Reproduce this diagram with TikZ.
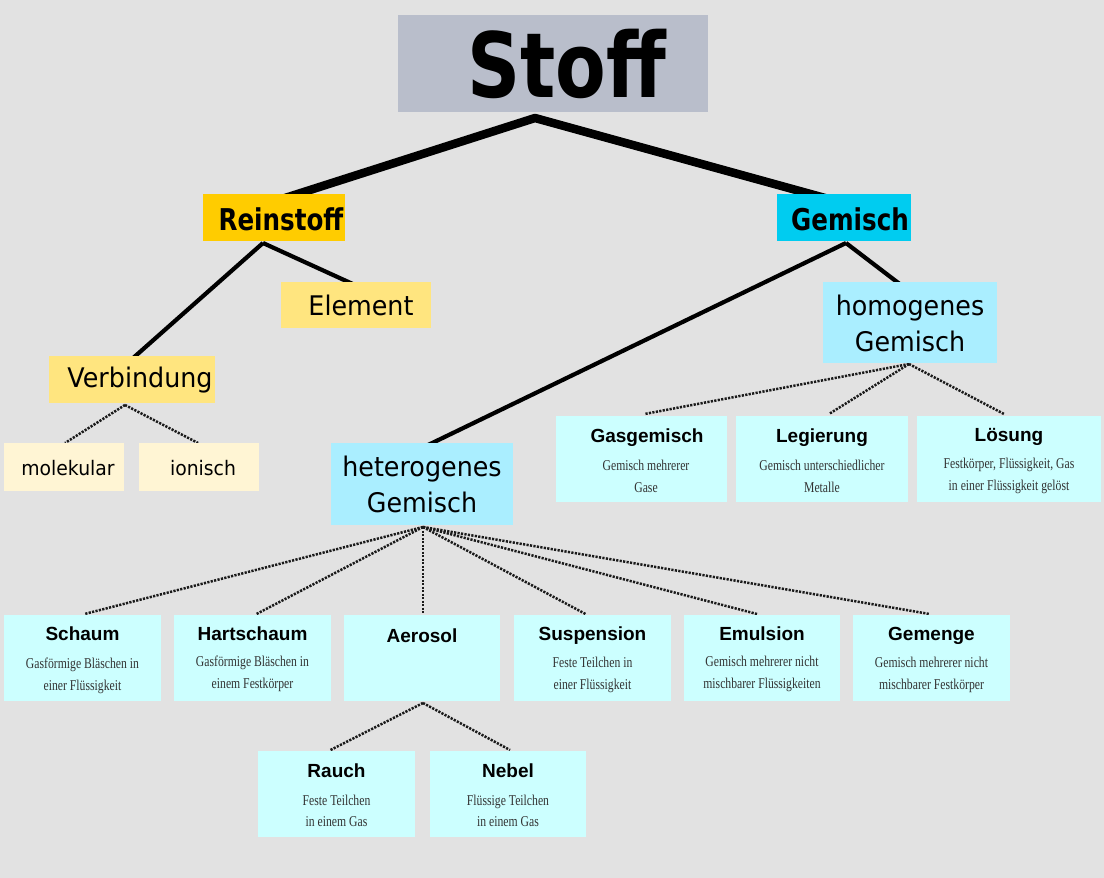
\documentclass[tikz,border=0pt]{standalone}
\usepackage{fontspec}
\newfontfamily\djr{DejaVu Sans}[FakeStretch=0.94]
\newfontfamily\djb{DejaVu Sans}[FakeStretch=0.82]
\newfontfamily\lsans{Liberation Sans}
\newfontfamily\lserif{Liberation Serif}[FakeStretch=0.78]
\definecolor{bgc}{HTML}{E2E2E2}
\definecolor{stoffc}{HTML}{B9BECB}
\definecolor{reinc}{HTML}{FFCC00}
\definecolor{gemc}{HTML}{00CCF0}
\definecolor{yelc}{HTML}{FFE57F}
\definecolor{paleyel}{HTML}{FFF5D4}
\definecolor{bluec}{HTML}{AAEEFF}
\definecolor{palec}{HTML}{CCFFFF}
\definecolor{dotc}{HTML}{1A1A1A}
\definecolor{descc}{HTML}{333333}
\pgfdeclarelayer{bg}
\pgfdeclarelayer{lines}
\pgfsetlayers{bg,lines,main}
\begin{document}
\begin{tikzpicture}[x=1pt,y=-1pt,
  box/.style={draw=none,inner sep=0pt,outer sep=0pt},
  txt/.style={inner sep=0pt,outer sep=0pt,anchor=base,text=black},
  bigbold/.style={txt,font=\djb\bfseries\fontsize{30}{36}\selectfont},
  bigreg/.style={txt,font=\djr\fontsize{27}{32}\selectfont},
  smallreg/.style={txt,font=\djr\fontsize{20}{24}\selectfont},
  head/.style={txt,font=\lsans\bfseries\fontsize{19}{22}\selectfont},
  desc/.style={txt,font=\lserif\fontsize{15}{18}\selectfont,text=descc},
  thickline/.style={line width=8.5pt,line join=round,line cap=round},
  midline/.style={line width=4.2pt},
  dotline/.style={line width=2.5pt,draw=dotc,dash pattern=on 2.2pt off 1.3pt},
  pbox/.style={box,fill=palec,minimum width=157pt,minimum height=86pt}]

\begin{pgfonlayer}{bg}
\fill[bgc] (0,0) rectangle (1104,878);
\end{pgfonlayer}
\useasboundingbox (0,0) rectangle (1104,878);

% ---------- boxes ----------
\node[box,fill=stoffc,minimum width=310pt,minimum height=97pt] (stoff) at (553,63.5) {};
\node[box,fill=reinc,minimum width=142pt,minimum height=47pt] (rein) at (274,217.5) {};
\node[box,fill=gemc,minimum width=134pt,minimum height=47pt] (gem) at (844,217.5) {};
\node[box,fill=yelc,minimum width=150pt,minimum height=46pt] (elem) at (356,305) {};
\node[box,fill=yelc,minimum width=166pt,minimum height=47pt] (verb) at (132,379.5) {};
\node[box,fill=bluec,minimum width=174pt,minimum height=81pt] (homo) at (910,322.5) {};
\node[box,fill=bluec,minimum width=182pt,minimum height=82pt] (hete) at (422,484) {};
\node[box,fill=paleyel,minimum width=120pt,minimum height=48pt] (mole) at (64,467) {};
\node[box,fill=paleyel,minimum width=120pt,minimum height=48pt] (ion) at (199,467) {};
\node[pbox,minimum width=171pt] (gas) at (641.5,459) {};
\node[pbox,minimum width=172pt] (leg) at (822,459) {};
\node[pbox,minimum width=184pt] (loes) at (1009,459) {};
\node[pbox] (schaum) at (82.5,658) {};
\node[pbox] (hart) at (252.5,658) {};
\node[pbox,minimum width=156pt] (aer) at (422,658) {};
\node[pbox] (susp) at (592.5,658) {};
\node[pbox,minimum width=156pt] (emul) at (762,658) {};
\node[pbox] (gemenge) at (931.5,658) {};
\node[pbox] (rauch) at (336.5,794) {};
\node[pbox,minimum width=156pt] (nebel) at (508,794) {};

% ---------- texts ----------
\node[txt,font=\djb\bfseries\fontsize{90}{100}\selectfont] (tstoff) at (567,97) {Stoff};
\node[bigbold] (trein) at (281,230) {Reinstoff};
\node[bigbold] (tgem) at (850,230) {Gemisch};
\node[bigreg] (telem) at (361,315) {Element};
\node[bigreg] (tverb) at (140,387) {Verbindung};
\node[bigreg] (thomo1) at (910,315) {homogenes};
\node[bigreg] (thomo2) at (910,351) {Gemisch};
\node[bigreg] (thete1) at (422,476) {heterogenes};
\node[bigreg] (thete2) at (422,512) {Gemisch};
\node[smallreg] (tmole) at (68,475) {molekular};
\node[smallreg] (tion) at (203,475) {ionisch};

\node[head] (hgas) at (647,442) {Gasgemisch};
\node[desc] (dgas1) at (646,470) {Gemisch mehrerer};
\node[desc] (dgas2) at (646,492) {Gase};
\node[head] (hleg) at (822,442) {Legierung};
\node[desc] (dleg1) at (822,470) {Gemisch unterschiedlicher};
\node[desc] (dleg2) at (822,492) {Metalle};
\node[head] (hloes) at (1009,441) {Lösung};
\node[desc] (dloes1) at (1009,468) {Festkörper, Flüssigkeit, Gas};
\node[desc] (dloes2) at (1009,490) {in einer Flüssigkeit gelöst};

\node[head] (hschaum) at (82.5,640) {Schaum};
\node[desc] (dschaum1) at (82.5,668) {Gasförmige Bläschen in};
\node[desc] (dschaum2) at (82.5,690) {einer Flüssigkeit};
\node[head] (hhart) at (252.5,640) {Hartschaum};
\node[desc] (dhart1) at (252.5,666) {Gasförmige Bläschen in};
\node[desc] (dhart2) at (252.5,688) {einem Festkörper};
\node[head] (haer) at (422,642) {Aerosol};
\node[head] (hsusp) at (592.5,640) {Suspension};
\node[desc] (dsusp1) at (592.5,667) {Feste Teilchen in};
\node[desc] (dsusp2) at (592.5,689) {einer Flüssigkeit};
\node[head] (hemul) at (762,640) {Emulsion};
\node[desc] (demul1) at (762,666) {Gemisch mehrerer nicht};
\node[desc] (demul2) at (762,688) {mischbarer Flüssigkeiten};
\node[head] (hgemenge) at (931.5,640) {Gemenge};
\node[desc] (dgemenge1) at (931.5,667) {Gemisch mehrerer nicht};
\node[desc] (dgemenge2) at (931.5,689) {mischbarer Festkörper};

\node[head] (hrauch) at (336.5,777) {Rauch};
\node[desc] (drauch1) at (336.5,805) {Feste Teilchen};
\node[desc] (drauch2) at (336.5,826) {in einem Gas};
\node[head] (hnebel) at (508,777) {Nebel};
\node[desc] (dnebel1) at (508,805) {Flüssige Teilchen};
\node[desc] (dnebel2) at (508,826) {in einem Gas};

% ---------- connectors ----------
\coordinate (j0) at (535,118);
\begin{pgfonlayer}{lines}
\draw[thickline] ([xshift=11pt,yshift=-4pt]rein.north) -- (j0) -- ([xshift=-19pt,yshift=-4pt]gem.north);

\draw[midline] ([xshift=-11pt,yshift=-2pt]rein.south) -- ([yshift=-3pt]verb.north);
\draw[midline] ([xshift=-11pt,yshift=-2pt]rein.south) -- ([xshift=-1pt,yshift=-3pt]elem.north);
\draw[midline] ([xshift=2pt,yshift=-2pt]gem.south) -- ([xshift=4pt,yshift=-3pt]hete.north);
\draw[midline] ([xshift=2pt,yshift=-2pt]gem.south) -- ([xshift=-9pt,yshift=-3pt]homo.north);

\draw[dotline] ([xshift=-7pt,yshift=-2pt]verb.south) -- ([xshift=1pt]mole.north);
\draw[dotline] ([xshift=-7pt,yshift=-2pt]verb.south) -- ([xshift=-1pt]ion.north);

\draw[dotline] ([xshift=-1pt,yshift=-1pt]homo.south) -- ([xshift=3pt,yshift=2pt]gas.north);
\draw[dotline] ([xshift=-1pt,yshift=-1pt]homo.south) -- ([xshift=7pt,yshift=2pt]leg.north);
\draw[dotline] ([xshift=-1pt,yshift=-1pt]homo.south) -- ([xshift=-5pt,yshift=2pt]loes.north);

\draw[dotline] ([xshift=1pt,yshift=-2pt]hete.south) -- ([xshift=2pt,yshift=1pt]schaum.north);
\draw[dotline] ([xshift=1pt,yshift=-2pt]hete.south) -- ([xshift=4pt,yshift=1pt]hart.north);
\draw[dotline] ([xshift=1pt,yshift=-2pt]hete.south) -- ([xshift=1pt,yshift=1pt]aer.north);
\draw[dotline] ([xshift=1pt,yshift=-2pt]hete.south) -- ([xshift=-7pt,yshift=1pt]susp.north);
\draw[dotline] ([xshift=1pt,yshift=-2pt]hete.south) -- ([xshift=-5pt,yshift=1pt]emul.north);
\draw[dotline] ([xshift=1pt,yshift=-2pt]hete.south) -- ([xshift=-2pt,yshift=1pt]gemenge.north);

\draw[dotline] ([xshift=1pt,yshift=-2pt]aer.south) -- ([xshift=-6pt,yshift=1pt]rauch.north);
\draw[dotline] ([xshift=1pt,yshift=-2pt]aer.south) -- ([xshift=2pt,yshift=1pt]nebel.north);
\end{pgfonlayer}
\end{tikzpicture}
\end{document}
